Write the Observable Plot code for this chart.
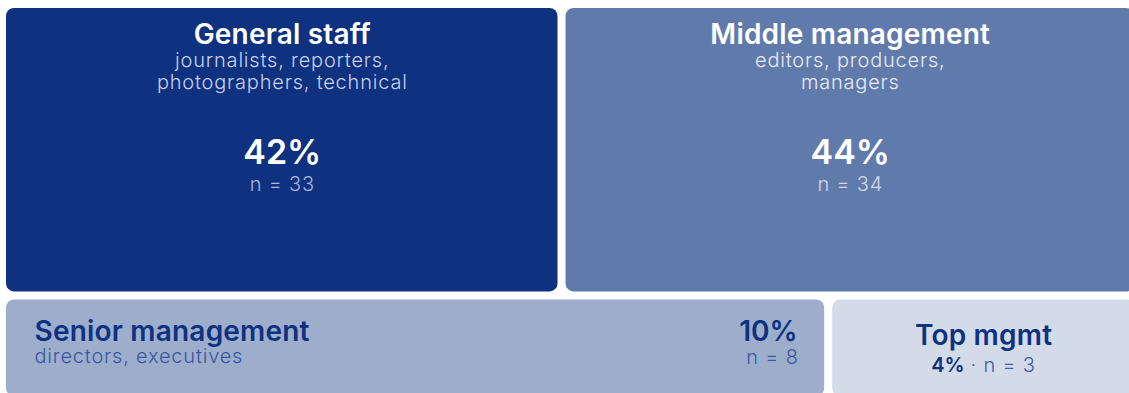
<!DOCTYPE html>
<html>
<head>
<meta charset="utf-8">
<script src="https://cdn.jsdelivr.net/npm/d3@7"></script>
<script src="https://cdn.jsdelivr.net/npm/@observablehq/plot@0.6"></script>
<style>
  html, body { margin: 0; padding: 0; background: #fff; overflow: hidden; }
  svg { display: block; }
</style>
</head>
<body>
<div id="chart"></div>
<script>
// ---- data ----
const categories = ["General staff", "Middle management", "Senior management", "Top mgmt"];
const subtitles = ["journalists, reporters,\nphotographers, technical", "editors, producers,\nmanagers", "directors, executives", ""];
const shares = [42, 44, 10, 4];
const counts = [33, 34, 8, 3];
const rowOf = [0, 0, 1, 1];

// ---- styles ----
const fills = ["#0e3180", "#607bab", "#9daecd", "#d3dbe8"];
const FONT = "Inter, 'Noto Sans', sans-serif";

// ---- layout (row-wise treemap, widths by n) ----
const rowTotals = [0, 1].map(r => d3.sum(counts.filter((c, i) => rowOf[i] === r)));
const rowY = [[0, 0.736], [0.736, 1]];
const cursor = [0, 0];
const cells = categories.map((name, i) => {
  const r = rowOf[i];
  const x1 = cursor[r];
  const x2 = x1 + counts[i] / rowTotals[r];
  cursor[r] = x2;
  return {name, sub: subtitles[i], share: shares[i], n: counts[i], row: r,
          x1, x2, xm: (x1 + x2) / 2, y1: rowY[r][0], y2: rowY[r][1], fill: fills[i]};
});
const topRow = cells.filter(d => d.row === 0);
const senior = cells.filter(d => d.name === "Senior management");
const topMgmt = cells.filter(d => d.name === "Top mgmt");

const base = {fontFamily: FONT, lineAnchor: "bottom"};
const TW = 600, SW = 300, TS = 28, SS = 20;

const chart = Plot.plot({
  width: 1129,
  height: 393,
  margin: 0,
  style: {fontFamily: FONT, background: "#fff", overflow: "hidden"},
  x: {domain: [0, 1], range: [2, 1138], axis: null},
  y: {domain: [0, 1], range: [4, 400], axis: null},
  marks: [
    Plot.rect(cells, {x1: "x1", x2: "x2", y1: "y1", y2: "y2", fill: "fill", inset: 4, rx: 8, ry: 8}),
    // top row: centered labels
    Plot.text(topRow, {...base, x: "xm", y: "y1", text: "name", dy: 39, fontSize: TS, fontWeight: TW, fill: "#fff"}),
    Plot.text(topRow, {...base, x: "xm", y: "y1", text: "sub", dy: 84, fontSize: SS, fontWeight: SW, lineHeight: 1.07,
      fill: d => d.name === "General staff" ? "#c8d0ea" : "#e6eaf3"}),
    Plot.text(topRow, {...base, x: "xm", y: "y1", text: d => `${d.share}%`, dy: 159, fontSize: 34, fontWeight: TW, fill: "#fff"}),
    Plot.text(topRow, {...base, x: "xm", y: "y1", text: d => `n = ${d.n}`, dy: 186, fontSize: SS, fontWeight: SW,
      fill: d => d.name === "General staff" ? "#a9b7da" : "#d2daea"}),
    // senior management: left title, right figures
    Plot.text(senior, {...base, x: "x1", y: "y1", text: "name", textAnchor: "start", dx: 32, dy: 45, fontSize: TS, fontWeight: TW, fill: "#0e3180"}),
    Plot.text(senior, {...base, x: "x1", y: "y1", text: "sub", textAnchor: "start", dx: 32, dy: 67, fontSize: SS, fontWeight: SW, fill: "#3a56a0"}),
    Plot.text(senior, {...base, x: "x2", y: "y1", text: d => `${d.share}%`, textAnchor: "end", dx: -31, dy: 45, fontSize: TS, fontWeight: TW, fill: "#0e3180"}),
    Plot.text(senior, {...base, x: "x2", y: "y1", text: d => `n = ${d.n}`, textAnchor: "end", dx: -30, dy: 68, fontSize: SS, fontWeight: SW, fill: "#3a56a0"}),
    // top mgmt: centered
    Plot.text(topMgmt, {...base, x: "xm", y: "y1", text: "name", dy: 49, fontSize: TS, fontWeight: TW, fill: "#0e3180"}),
    Plot.text(topMgmt, {...base, x: "xm", y: "y1", text: d => `${d.share}%`, textAnchor: "end", dx: -19, dy: 76, fontSize: SS, fontWeight: TW, fill: "#0e3180"}),
    Plot.text(topMgmt, {...base, x: "xm", y: "y1", text: d => `· n = ${d.n}`, textAnchor: "start", dx: -13, dy: 76, fontSize: SS, fontWeight: SW, fill: "#3f5aa2"})
  ]
});
// letter-spacing per text mark (titles, subtitles/n, percentages)
const spacing = [0.2, 0.8, 0, 0.8, 0.2, 0.8, 0, 0.8, 0.2, 0, 0.8];
d3.select(chart).selectAll('g[aria-label="text"]').each(function(_, i) {
  this.style.letterSpacing = spacing[i] + "px";
});
document.getElementById("chart").appendChild(chart);
</script>
</body>
</html>
